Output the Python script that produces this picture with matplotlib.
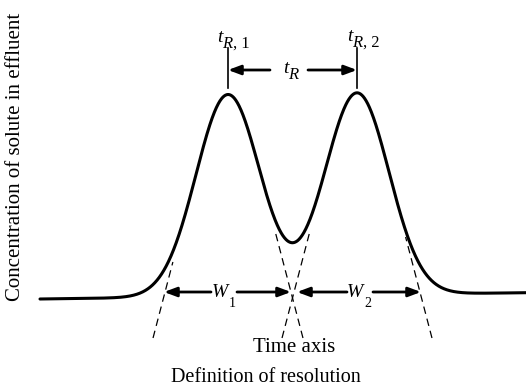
import numpy as np
import matplotlib
matplotlib.use("Agg")
import matplotlib.pyplot as plt

plt.rcParams['font.family'] = ['Liberation Serif', 'DejaVu Serif']

# ---- data ----
peak_subscripts = [", 1", ", 2"]
peak_centers = [228, 357]        # retention times
peak_heights = [202, 202]        # concentration at peak maximum
peak_sigmas = [32, 32]           # standard deviation of each peak
baseline_ends = [-3.0, 3.3]      # slight baseline drift (start, end)
time_range = [40, 526]
tangent_tops = [34, 63, 64, 59]  # where each dashed tangent starts (concentration)
tangent_bottom = -42
width_subscripts = ["1", "2"]

fig = plt.figure(figsize=(5.26, 3.87), dpi=100)
ax = fig.add_axes([0, 0, 1, 1])
ax.set_xlim(0, 526)
ax.set_ylim(-91, 296)
ax.axis('off')

t = np.linspace(time_range[0], time_range[1], 1500)
base = baseline_ends[0] + (baseline_ends[1] - baseline_ends[0]) * (t - time_range[0]) / (time_range[1] - time_range[0])
conc = base.copy()
for c, h, s in zip(peak_centers, peak_heights, peak_sigmas):
    conc += h * np.exp(-0.5 * ((t - c) / s) ** 2)
ax.plot(t, conc, color='black', lw=2.2, solid_capstyle='round')

# tangent lines at inflection points
k = 0
for c, h, s in zip(peak_centers, peak_heights, peak_sigmas):
    slope = h * np.exp(-0.5) / s
    for side in (-1, 1):
        x0 = c + side * 2 * s  # baseline intersection
        top = tangent_tops[k]
        k += 1
        ys = np.array([tangent_bottom, top])
        xs = x0 - side * ys / slope
        ax.plot(xs, ys, color='black', lw=0.9, linestyle=(0, (6, 4)))

def arrow(x_from, x_to, y):
    ax.annotate('', xy=(x_to, y), xytext=(x_from, y),
                arrowprops=dict(arrowstyle='-|>,head_length=0.75,head_width=0.28',
                                lw=2.0, color='black', shrinkA=0, shrinkB=0,
                                mutation_scale=10))

# retention time markers
for c in peak_centers:
    ax.plot([c, c], [208, 248], color='black', lw=1.2)
arrow(270, peak_centers[0], 226)
arrow(308, peak_centers[1], 226)

def t_label(x, y, sub):
    ax.text(x, y, 't', style='italic', fontsize=14, ha='left', va='baseline')
    ax.text(x + 5, y - 6, 'R', style='italic', fontsize=12, ha='left', va='baseline')
    if sub:
        ax.text(x + 16, y - 6, sub, fontsize=12, ha='left', va='baseline')

t_label(283, 223, None)
t_label(peak_centers[0] - 11, 254, peak_subscripts[0])
t_label(peak_centers[1] - 10, 255, peak_subscripts[1])

# peak widths
y_w = 4
l1 = peak_centers[0] - 2 * peak_sigmas[0]
r1 = peak_centers[0] + 2 * peak_sigmas[0]
l2 = peak_centers[1] - 2 * peak_sigmas[1]
r2 = peak_centers[1] + 2 * peak_sigmas[1]
arrow(211, l1, y_w)
arrow(237, r1 - 1, y_w)
arrow(347, l2 + 4, y_w)
arrow(373, r2, y_w)
for xw, sub in zip([212, 347], width_subscripts):
    ax.text(xw, -1, 'W', style='italic', fontsize=14, ha='left', va='baseline')
    ax.text(xw + 17, -11, sub, fontsize=10, ha='left', va='baseline')

ax.text(294, -51, 'Time axis', ha='center', va='center', fontsize=15)
ax.text(266, -82, 'Definition of resolution', ha='center', va='center', fontsize=14.5)
ax.text(16, 139, 'Concentration of solute in effluent', ha='center', va='center',
        rotation=90, fontsize=15)

fig.savefig('out.png', dpi=100)
